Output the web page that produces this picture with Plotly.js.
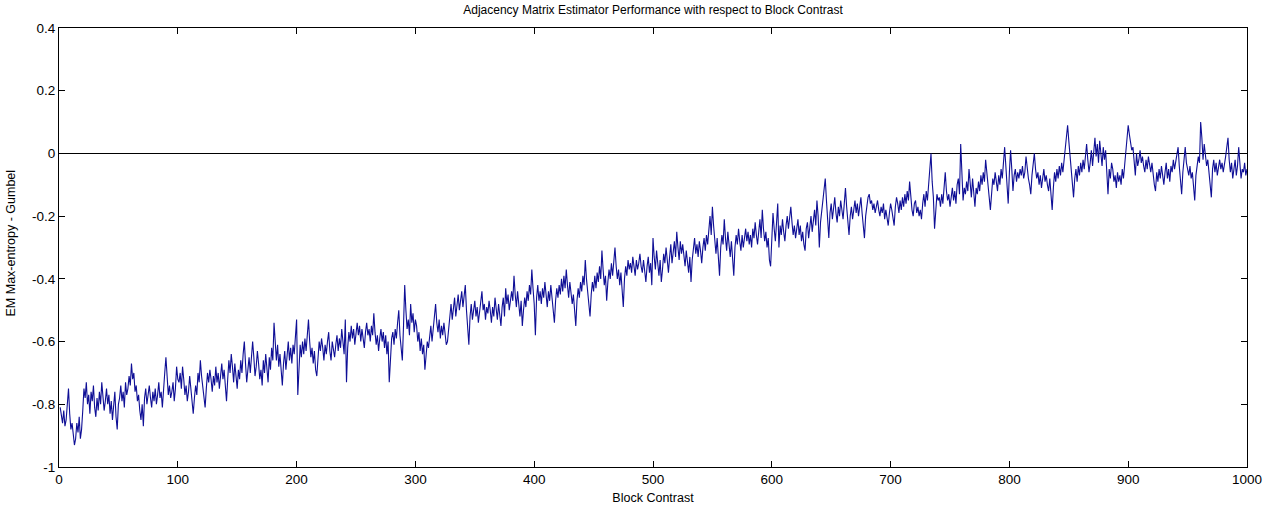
<!DOCTYPE html>
<html>
<head>
<meta charset="utf-8">
<script src="https://cdn.plot.ly/plotly-3.0.1.min.js"></script>
<style>html,body{margin:0;padding:0;background:#fff;}#chart{width:1278px;height:508px;}</style>
</head>
<body>
<div id="chart"></div>
<script>
// Block contrast values 1..1000 (index), EM Max-entropy minus Gumbel
const perfDiff = [
-.81,-.84,-.86,-.82,-.87,-.85,-.80,-.75,-.83,-.88,-.86,-.90,-.93,-.91,-.86,-.89,-.84,-.91,-.88,-.82,
-.75,-.78,-.73,-.80,-.77,-.83,-.76,-.79,-.74,-.81,-.84,-.78,-.82,-.76,-.80,-.73,-.78,-.82,-.79,-.75,
-.80,-.77,-.83,-.79,-.85,-.81,-.76,-.84,-.88,-.80,-.78,-.74,-.79,-.76,-.81,-.73,-.77,-.75,-.71,-.74,
-.67,-.72,-.70,-.76,-.74,-.79,-.77,-.82,-.85,-.80,-.87,-.78,-.75,-.80,-.77,-.74,-.78,-.81,-.76,-.79,
-.75,-.80,-.77,-.73,-.78,-.76,-.81,-.74,-.70,-.65,-.72,-.77,-.74,-.78,-.76,-.73,-.79,-.75,-.68,-.72,
-.73,-.70,-.75,-.68,-.72,-.77,-.74,-.79,-.76,-.71,-.75,-.80,-.83,-.78,-.74,-.77,-.70,-.73,-.66,-.71,
-.74,-.78,-.81,-.75,-.70,-.73,-.69,-.72,-.76,-.71,-.74,-.68,-.73,-.70,-.75,-.71,-.67,-.72,-.69,-.74,
-.79,-.72,-.66,-.70,-.64,-.68,-.73,-.67,-.71,-.75,-.69,-.72,-.66,-.70,-.64,-.60,-.67,-.73,-.69,-.65,
-.70,-.66,-.60,-.65,-.71,-.68,-.63,-.67,-.72,-.69,-.74,-.66,-.70,-.64,-.68,-.73,-.65,-.69,-.62,-.66,
-.54,-.62,-.66,-.61,-.68,-.64,-.70,-.74,-.67,-.63,-.69,-.65,-.60,-.66,-.62,-.67,-.61,-.64,-.58,-.53,
-.77,-.66,-.61,-.65,-.60,-.64,-.59,-.63,-.57,-.53,-.60,-.65,-.62,-.67,-.63,-.69,-.71,-.64,-.60,-.63,
-.59,-.62,-.66,-.61,-.64,-.60,-.57,-.63,-.66,-.60,-.62,-.65,-.61,-.58,-.63,-.59,-.62,-.56,-.60,-.64,
-.53,-.73,-.62,-.57,-.60,-.55,-.59,-.56,-.61,-.57,-.54,-.58,-.55,-.60,-.56,-.59,-.62,-.57,-.54,-.58,
-.56,-.60,-.55,-.58,-.51,-.57,-.61,-.58,-.63,-.59,-.56,-.60,-.57,-.62,-.58,-.64,-.60,-.73,-.63,-.59,
-.57,-.61,-.56,-.59,-.54,-.50,-.58,-.62,-.66,-.55,-.42,-.50,-.56,-.53,-.58,-.48,-.54,-.51,-.57,-.53,
-.55,-.60,-.57,-.63,-.59,-.64,-.61,-.69,-.65,-.60,-.62,-.58,-.55,-.60,-.56,-.52,-.48,-.54,-.57,-.53,
-.59,-.55,-.58,-.54,-.57,-.61,-.60,-.55,-.51,-.48,-.53,-.50,-.46,-.52,-.49,-.45,-.50,-.47,-.44,-.49,
-.46,-.42,-.50,-.55,-.61,-.52,-.48,-.53,-.50,-.47,-.52,-.49,-.54,-.51,-.47,-.44,-.50,-.48,-.53,-.49,
-.51,-.47,-.50,-.54,-.49,-.52,-.46,-.50,-.53,-.48,-.51,-.55,-.49,-.46,-.52,-.43,-.48,-.45,-.50,-.47,
-.44,-.47,-.39,-.45,-.49,-.44,-.48,-.52,-.47,-.55,-.50,-.46,-.49,-.44,-.47,-.42,-.45,-.37,-.43,-.48,
-.58,-.46,-.42,-.47,-.44,-.48,-.43,-.46,-.41,-.45,-.49,-.44,-.47,-.42,-.46,-.50,-.54,-.47,-.43,-.46,
-.42,-.45,-.40,-.44,-.39,-.43,-.37,-.42,-.46,-.41,-.44,-.48,-.45,-.50,-.55,-.47,-.43,-.46,-.41,-.44,
-.39,-.42,-.34,-.40,-.44,-.48,-.52,-.45,-.41,-.44,-.39,-.43,-.38,-.41,-.36,-.40,-.31,-.37,-.42,-.39,
-.47,-.41,-.37,-.40,-.35,-.39,-.34,-.30,-.36,-.40,-.37,-.42,-.38,-.44,-.49,-.40,-.36,-.39,-.34,-.37,
-.35,-.38,-.33,-.36,-.39,-.34,-.37,-.35,-.32,-.36,-.38,-.34,-.37,-.41,-.36,-.33,-.38,-.35,-.42,-.27,
-.33,-.37,-.31,-.36,-.39,-.34,-.41,-.37,-.32,-.35,-.30,-.34,-.38,-.33,-.29,-.35,-.31,-.28,-.33,-.25,
-.30,-.34,-.28,-.32,-.29,-.33,-.36,-.31,-.35,-.38,-.33,-.41,-.34,-.30,-.27,-.32,-.29,-.33,-.28,-.31,
-.35,-.30,-.27,-.31,-.26,-.29,-.24,-.20,-.26,-.17,-.23,-.28,-.32,-.27,-.34,-.39,-.30,-.26,-.29,-.21,
-.27,-.31,-.25,-.29,-.33,-.28,-.35,-.39,-.30,-.26,-.29,-.24,-.28,-.31,-.26,-.30,-.27,-.24,-.28,-.25,
-.29,-.26,-.30,-.24,-.27,-.22,-.26,-.29,-.25,-.21,-.27,-.18,-.24,-.28,-.25,-.30,-.27,-.34,-.36,-.26,
-.19,-.24,-.28,-.22,-.16,-.30,-.23,-.26,-.21,-.25,-.28,-.23,-.20,-.24,-.19,-.17,-.22,-.26,-.23,-.27,
-.24,-.21,-.26,-.23,-.28,-.25,-.29,-.31,-.24,-.22,-.27,-.23,-.20,-.25,-.21,-.18,-.23,-.15,-.20,-.30,
-.22,-.18,-.14,-.11,-.08,-.15,-.21,-.27,-.19,-.16,-.21,-.18,-.14,-.19,-.22,-.17,-.20,-.15,-.18,-.21,
-.16,-.11,-.17,-.22,-.26,-.20,-.17,-.21,-.18,-.15,-.19,-.16,-.20,-.17,-.14,-.19,-.23,-.27,-.20,-.17,
-.14,-.13,-.16,-.15,-.18,-.16,-.19,-.17,-.15,-.18,-.20,-.17,-.19,-.16,-.21,-.18,-.20,-.23,-.19,-.16,
-.18,-.21,-.23,-.17,-.14,-.16,-.19,-.15,-.18,-.14,-.17,-.13,-.16,-.12,-.15,-.09,-.14,-.18,-.20,-.16,
-.15,-.19,-.17,-.20,-.18,-.21,-.16,-.13,-.17,-.12,-.15,-.10,-.06,.00,-.09,-.14,-.24,-.17,-.13,-.15,
-.14,-.17,-.13,-.16,-.11,-.06,-.12,-.15,-.13,-.17,-.14,-.11,-.15,-.12,-.16,-.10,-.08,-.13,.03,-.06,
-.15,-.11,-.13,-.09,-.12,-.05,-.10,-.14,-.08,-.12,-.17,-.11,-.13,-.09,-.12,-.07,-.10,-.06,-.09,-.02,
-.07,-.11,-.14,-.18,-.12,-.08,-.10,-.06,-.09,-.12,-.07,-.10,-.05,-.08,-.03,.02,-.04,-.09,-.16,-.06,
.01,-.05,-.12,-.07,-.05,-.09,-.06,-.08,-.05,-.07,-.04,-.08,-.06,-.01,-.05,-.08,-.10,-.13,-.07,-.04,
.00,-.05,-.08,-.06,-.10,-.07,-.11,-.08,-.05,-.09,-.07,-.10,-.12,-.08,-.14,-.18,-.11,-.06,-.09,-.05,
-.08,-.04,-.07,-.03,-.06,-.02,.03,.06,.09,.04,-.01,-.06,-.10,-.14,-.08,-.05,-.09,-.04,-.07,-.03,
-.06,-.02,-.05,-.01,.03,-.02,-.06,-.03,.01,-.04,.02,.05,-.01,.03,-.03,.04,.00,-.04,.02,-.02,
.01,-.06,-.13,-.05,-.08,-.03,-.05,-.09,-.07,-.11,-.06,-.09,-.07,-.10,-.05,-.08,-.04,.00,.05,.09,
.06,.03,.01,.02,-.03,-.07,.00,-.04,-.02,.01,-.03,-.01,-.04,-.06,-.02,-.05,-.01,-.04,-.06,-.03,
-.07,-.10,-.12,-.06,-.09,-.05,-.08,-.04,-.07,-.10,-.06,-.03,-.08,-.05,-.09,-.04,-.06,-.02,-.05,-.03,
-.01,.02,-.04,-.09,-.13,-.06,-.02,.02,-.03,-.05,-.07,-.04,-.08,-.06,-.10,-.15,-.07,-.04,-.01,-.03,
.10,.05,-.02,.03,-.01,-.04,-.02,-.06,-.09,-.14,-.05,-.02,-.06,-.03,-.07,-.04,-.02,-.05,-.03,-.06,
-.04,-.01,.02,.05,-.02,-.06,-.03,-.08,-.05,-.02,-.07,-.04,.02,-.03,-.08,-.05,-.06,-.03,-.07,-.05
];
const blockContrast = perfDiff.map((_, i) => i + 1);

const xTickVals = [0,100,200,300,400,500,600,700,800,900,1000];
const xTickText = ['0','100','200','300','400','500','600','700','800','900','1000'];
const yTickVals = [-1,-0.8,-0.6,-0.4,-0.2,0,0.2,0.4];
const yTickText = ['-1','-0.8','-0.6','-0.4','-0.2','0','0.2','0.4'];

const font = 'Liberation Sans, Arial, Helvetica, sans-serif';

const data = [{
  x: blockContrast,
  y: perfDiff,
  type: 'scatter',
  mode: 'lines',
  line: {color: 'rgb(15,15,150)', width: 1.1},
  hoverinfo: 'x+y'
}];

const layout = {
  width: 1278,
  height: 508,
  margin: {l: 59, r: 31, t: 28, b: 41, pad: 0},
  paper_bgcolor: '#fff',
  plot_bgcolor: '#fff',
  showlegend: false,
  font: {family: font, size: 13, color: '#000'},
  title: {
    text: 'Adjacency Matrix Estimator Performance with respect to Block Contrast',
    font: {family: font, size: 12, color: '#000'},
    x: 0.5, xref: 'paper', xanchor: 'center',
    y: 1 - 10/508, yref: 'container', yanchor: 'middle'
  },
  xaxis: {
    range: [0, 1000],
    tickmode: 'array', tickvals: xTickVals, ticktext: xTickText,
    ticks: 'inside', ticklen: 6, tickcolor: '#000', tickwidth: 1,
    showline: true, linecolor: '#000', linewidth: 1, mirror: 'ticks',
    showgrid: false, zeroline: false,
    tickfont: {family: font, size: 13.5, color: '#000'},
    title: {text: 'Block Contrast', font: {family: font, size: 12.5, color: '#000'}, standoff: 7}
  },
  yaxis: {
    range: [-1, 0.4],
    tickmode: 'array', tickvals: yTickVals, ticktext: yTickText,
    ticks: 'inside', ticklen: 6, tickcolor: '#000', tickwidth: 1,
    showline: true, linecolor: '#000', linewidth: 1, mirror: 'ticks',
    showgrid: false, zeroline: true, zerolinecolor: '#000', zerolinewidth: 1,
    tickfont: {family: font, size: 13.5, color: '#000'}
  },
  annotations: [{
    text: 'EM Max-entropy - Gumbel',
    xref: 'paper', yref: 'paper', x: 0, y: 0.5,
    xanchor: 'center', yanchor: 'middle', xshift: -49, yshift: 4,
    textangle: -90, showarrow: false,
    font: {family: font, size: 12.5, color: '#000'}
  }]
};

Plotly.newPlot('chart', data, layout, {displayModeBar: false, staticPlot: true});
</script>
</body>
</html>
